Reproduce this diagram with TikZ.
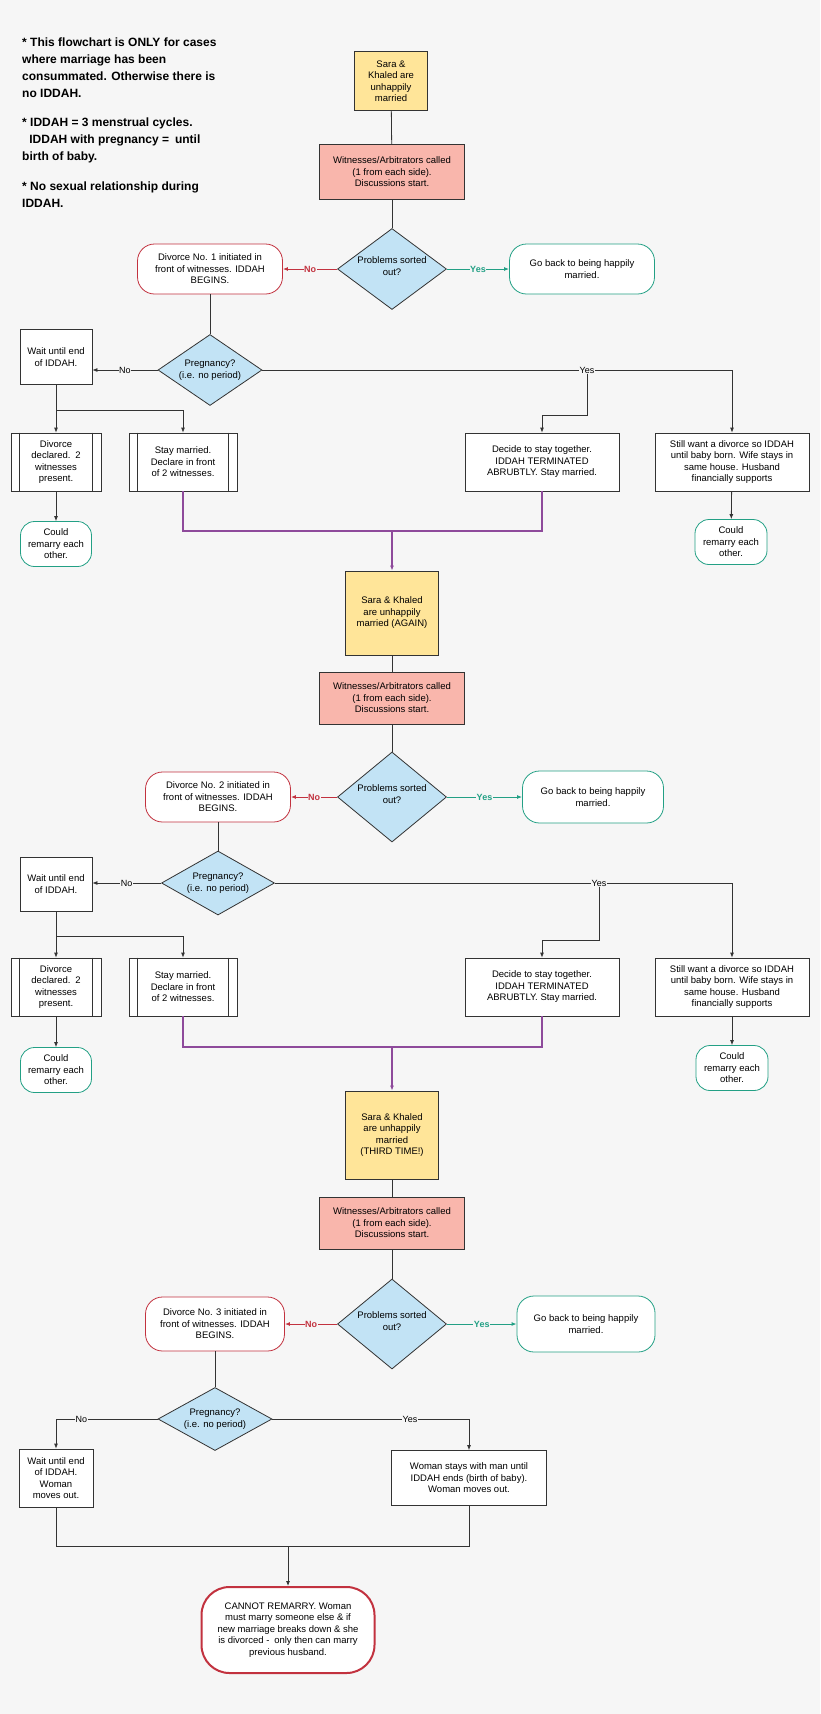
\documentclass[tikz,border=0pt]{standalone}
\usepackage{fontspec}
\setmainfont{Liberation Sans}
\usetikzlibrary{shapes.geometric,arrows.meta}
\definecolor{bg}{HTML}{F6F6F6}
\definecolor{yel}{HTML}{FFE599}
\definecolor{pink}{HTML}{F9B6AC}
\definecolor{blu}{HTML}{C2E3F5}
\definecolor{teal}{HTML}{23A085}
\definecolor{rd}{HTML}{C2323F}
\definecolor{purp}{HTML}{8E4A9B}
\definecolor{ln}{HTML}{333333}
\tikzset{
 base/.style={draw=ln,line width=0.8pt,align=center,inner sep=1pt,font=\fontsize{9.5}{11.5}\selectfont},
 sk/.style={base,fill=yel},
 wit/.style={base,fill=pink},
 dia/.style={diamond,draw=ln,line width=0.8pt,fill=blu,inner sep=0pt},
 dtxt/.style={align=center,font=\fontsize{9.5}{11.5}\selectfont,inner sep=0pt},
 proc/.style={base,fill=white},
 term/.style={base,fill=white,rounded corners=17pt},
 redt/.style={term,draw=rd},
 teat/.style={term,draw=teal},
 arr/.style={-{Latex[length=5pt,width=4pt]}},
 ed/.style={draw=ln,line width=0.8pt},
 pu/.style={draw=purp,line width=1.6pt},
 note/.style={anchor=north west,align=left,inner sep=0pt,font=\fontsize{12}{17}\selectfont\bfseries},
 lab/.style={fill=bg,inner sep=0.5pt,font=\fontsize{9}{10}\selectfont},
}
\begin{document}
\begin{tikzpicture}[x=1pt,y=-1pt]
\fill[bg] (0,0) rectangle (820,1714);
\useasboundingbox (0,0) rectangle (820,1714);
\node[note] (n1) at (22,38) {* This flowchart is ONLY for cases\\where marriage has been\\consummated. Otherwise there is\\no IDDAH.};
\node[note] (n2) at (22,118) {* IDDAH = 3 menstrual cycles.\\\hspace*{0.6em}IDDAH with pregnancy =\hspace{0.5em}until\\birth of baby.};
\node[note] (n3) at (22,182) {* No sexual relationship during\\IDDAH.};

% ===== section 1
\node[sk,minimum width=73,minimum height=59] (b1) at (391,81) {Sara \&\\Khaled are\\unhappily\\married};
\node[wit,minimum width=145,minimum height=55] (w1) at (392,172) {Witnesses/Arbitrators called\\(1 from each side).\\Discussions start.};
\node[dia,minimum width=109,minimum height=81] (d1) at (392,269) {};
\node[dtxt] (d1t) at (392,266) {Problems sorted\\out?};
\node[redt,minimum width=145,minimum height=50] (v1) at (210,269) {Divorce No. 1 initiated in\\front of witnesses. IDDAH\\BEGINS.};
\node[teat,minimum width=145,minimum height=50] (g1) at (582,269) {Go back to being happily\\married.};
\node[dia,minimum width=104,minimum height=71] (p1) at (210,370) {};
\node[dtxt] (p1t) at (210,370) {Pregnancy?\\(i.e. no period)};
\node[proc,minimum width=72,minimum height=55] (wa1) at (56,357) {Wait until end\\of IDDAH.};
\node[proc,minimum width=90,minimum height=58,text width=70] (dc1) at (56,462) {Divorce\\declared. 2\\witnesses\\present.};
\node[proc,minimum width=108,minimum height=58] (st1) at (183,462) {Stay married.\\Declare in front\\of 2 witnesses.};
\node[proc,minimum width=154,minimum height=58] (de1) at (542,462) {Decide to stay together.\\IDDAH TERMINATED\\ABRUBTLY. Stay married.};
\node[proc,minimum width=154,minimum height=58] (sw1) at (732,462) {Still want a divorce so IDDAH\\until baby born. Wife stays in\\same house. Husband\\financially supports};
\node[teat,minimum width=71,minimum height=45,rounded corners=14pt] (ca1) at (56,544) {Could\\remarry each\\other.};
\node[teat,minimum width=72,minimum height=45,rounded corners=14pt] (cb1) at (731,542) {Could\\remarry each\\other.};
\foreach \n in {dc1,st1}{\draw[ln,line width=0.8pt] ([xshift=9pt]\n.north west) -- ([xshift=9pt]\n.south west) ([xshift=-9pt]\n.north east) -- ([xshift=-9pt]\n.south east);}
\draw[ed] (b1) -- (w1);
\draw[ed] (w1) -- (d1);
\draw[draw=rd,line width=1pt,arr] (d1.west) -- node[lab,text=rd,font=\fontsize{9}{10}\selectfont\bfseries]{No} (v1.east);
\draw[draw=teal,line width=1pt,arr] (d1.east) -- node[lab,text=teal,font=\fontsize{9}{10}\selectfont\bfseries]{Yes} (g1.west);
\draw[ed] (v1) -- (p1);
\draw[ed,arr] (p1.west) -- node[lab]{No} (p1.west -| wa1.east);
\coordinate (y1) at (587,370);
\draw[ed,arr] (p1.east) -- (732,370) -- (sw1.north);
\node[lab] (y1l) at (y1) {Yes};
\draw[ed,arr] (y1l.south) -- (587,415) -- (542,415) -- (de1.north);
\draw[ed,arr] (wa1.south) -- (dc1.north);
\draw[ed,arr] (56,410) -- (183,410) -- (st1.north);
\draw[ed,arr] (dc1) -- (ca1);
\draw[ed,arr] (sw1) -- (cb1);

% ===== section 2
\node[sk,minimum width=93,minimum height=84] (b2) at (392,613) {Sara \& Khaled\\are unhappily\\married (AGAIN)};
\draw[pu] (st1.south) -- (183,531) -- (542,531) -- (de1.south);
\draw[pu,arr] (392,531) -- (b2.north);
\node[wit,minimum width=145,minimum height=52] (w2) at (392,698) {Witnesses/Arbitrators called\\(1 from each side).\\Discussions start.};
\node[dia,minimum width=109,minimum height=90] (d2) at (392,797) {};
\node[dtxt] (d2t) at (392,794) {Problems sorted\\out?};
\node[redt,minimum width=145,minimum height=50] (v2) at (218,797) {Divorce No. 2 initiated in\\front of witnesses. IDDAH\\BEGINS.};
\node[teat,minimum width=141,minimum height=52] (g2) at (593,797) {Go back to being happily\\married.};
\node[dia,minimum width=113,minimum height=64] (p2) at (218,883) {};
\node[dtxt] (p2t) at (218,883) {Pregnancy?\\(i.e. no period)};
\node[proc,minimum width=72,minimum height=54] (wa2) at (56,884) {Wait until end\\of IDDAH.};
\node[proc,minimum width=90,minimum height=58,text width=70] (dc2) at (56,987) {Divorce\\declared. 2\\witnesses\\present.};
\node[proc,minimum width=108,minimum height=58] (st2) at (183,987) {Stay married.\\Declare in front\\of 2 witnesses.};
\node[proc,minimum width=154,minimum height=58] (de2) at (542,987) {Decide to stay together.\\IDDAH TERMINATED\\ABRUBTLY. Stay married.};
\node[proc,minimum width=154,minimum height=58] (sw2) at (732,987) {Still want a divorce so IDDAH\\until baby born. Wife stays in\\same house. Husband\\financially supports};
\node[teat,minimum width=71,minimum height=45,rounded corners=14pt] (ca2) at (56,1070) {Could\\remarry each\\other.};
\node[teat,minimum width=72,minimum height=45,rounded corners=14pt] (cb2) at (732,1068) {Could\\remarry each\\other.};
\foreach \n in {dc2,st2}{\draw[ln,line width=0.8pt] ([xshift=9pt]\n.north west) -- ([xshift=9pt]\n.south west) ([xshift=-9pt]\n.north east) -- ([xshift=-9pt]\n.south east);}
\draw[ed] (b2) -- (w2);
\draw[ed] (w2) -- (d2);
\draw[draw=rd,line width=1pt,arr] (d2.west) -- node[lab,text=rd,font=\fontsize{9}{10}\selectfont\bfseries]{No} (v2.east);
\draw[draw=teal,line width=1pt,arr] (d2.east) -- node[lab,text=teal,font=\fontsize{9}{10}\selectfont\bfseries]{Yes} (g2.west);
\draw[ed] (v2) -- (p2);
\draw[ed,arr] (p2.west) -- node[lab]{No} (p2.west -| wa2.east);
\coordinate (y2) at (599,883);
\draw[ed,arr] (p2.east) -- (732,883) -- (sw2.north);
\node[lab] (y2l) at (y2) {Yes};
\draw[ed,arr] (y2l.south) -- (599,940) -- (542,940) -- (de2.north);
\draw[ed,arr] (wa2.south) -- (dc2.north);
\draw[ed,arr] (56,936) -- (183,936) -- (st2.north);
\draw[ed,arr] (dc2) -- (ca2);
\draw[ed,arr] (sw2) -- (cb2);

% ===== section 3
\node[sk,minimum width=93,minimum height=88] (b3) at (392,1135) {Sara \& Khaled\\are unhappily\\married\\(THIRD TIME!)};
\draw[pu] (st2.south) -- (183,1047) -- (542,1047) -- (de2.south);
\draw[pu,arr] (392,1047) -- (b3.north);
\node[wit,minimum width=145,minimum height=52] (w3) at (392,1223) {Witnesses/Arbitrators called\\(1 from each side).\\Discussions start.};
\node[dia,minimum width=109,minimum height=90] (d3) at (392,1324) {};
\node[dtxt] (d3t) at (392,1321) {Problems sorted\\out?};
\node[redt,minimum width=139,minimum height=54] (v3) at (215,1324) {Divorce No. 3 initiated in\\front of witnesses. IDDAH\\BEGINS.};
\node[teat,minimum width=138,minimum height=56] (g3) at (586,1324) {Go back to being happily\\married.};
\node[dia,minimum width=114,minimum height=63] (p3) at (215,1419) {};
\node[dtxt] (p3t) at (215,1419) {Pregnancy?\\(i.e. no period)};
\node[proc,minimum width=74,minimum height=58] (wa3) at (56,1478) {Wait until end\\of IDDAH.\\Woman\\moves out.};
\node[proc,minimum width=155,minimum height=55] (wo3) at (469,1478) {Woman stays with man until\\IDDAH ends (birth of baby).\\Woman moves out.};
\node[base,fill=white,draw=rd,line width=2pt,rounded corners=28pt,minimum width=173,minimum height=86] (cn) at (288,1630) {CANNOT REMARRY. Woman\\must marry someone else \& if\\new marriage breaks down \& she\\is divorced -\hspace{0.5em}only then can marry\\previous husband.};
\draw[ed] (b3) -- (w3);
\draw[ed] (w3) -- (d3);
\draw[draw=rd,line width=1pt,arr] (d3.west) -- node[lab,text=rd,font=\fontsize{9}{10}\selectfont\bfseries]{No} (v3.east);
\draw[draw=teal,line width=1pt,arr] (d3.east) -- node[lab,text=teal,font=\fontsize{9}{10}\selectfont\bfseries]{Yes} (g3.west);
\draw[ed] (v3) -- (p3);
\draw[ed,arr] (p3.west) -- node[lab,pos=0.75]{No} (56,1419) -- (wa3.north);
\draw[ed,arr] (p3.east) -- node[lab,pos=0.7]{Yes} (469,1419) -- (wo3.north);
\draw[ed] (wa3.south) -- (56,1546) -- (469,1546) -- (wo3.south);
\draw[ed,arr] (288,1546) -- (cn.north);
\end{tikzpicture}
\end{document}
